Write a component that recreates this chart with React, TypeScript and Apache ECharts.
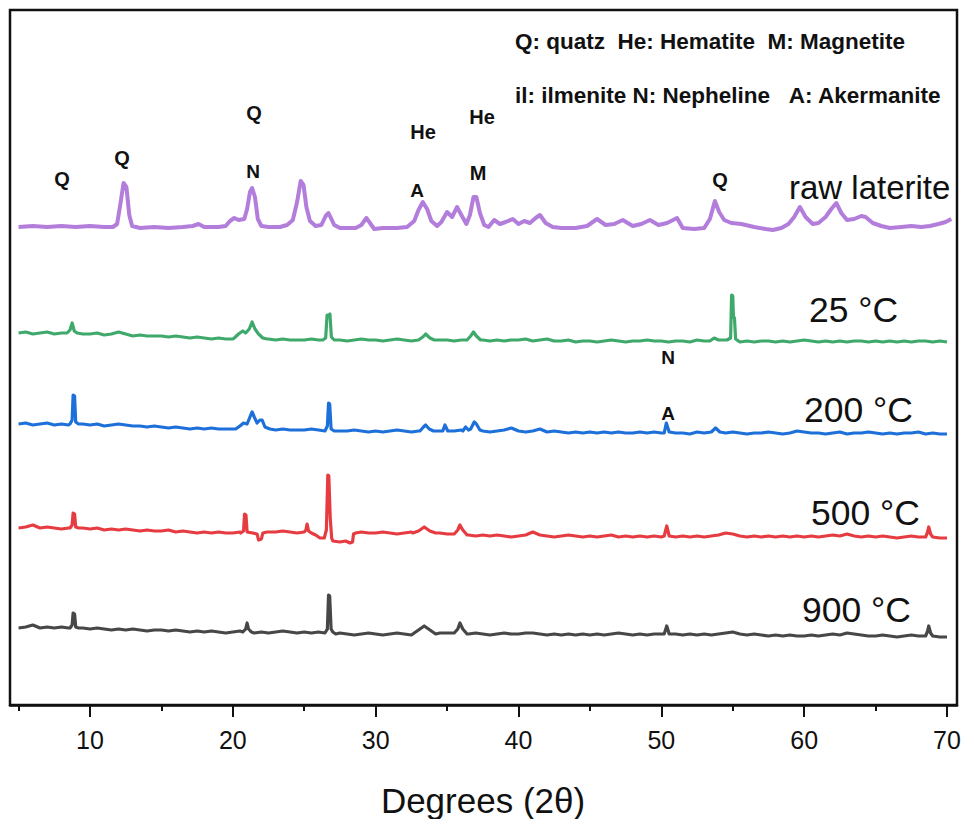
import { useEffect, useRef } from "react";
import * as echarts from "echarts";

// 2θ range and tick positions
const X_MIN = 4.4;
const X_MAX = 70.7;
const MAJOR_TICKS = [10, 20, 30, 40, 50, 60, 70];
const MINOR_TICKS = [5, 15, 25, 35, 45, 55, 65];

// background samples start at 5° and are spaced 0.5°
const BASE_START = 5;
const BASE_STEP = 0.5;

const SAMPLE_NAMES = ["raw laterite", "25 °C", "200 °C", "500 °C", "900 °C"];
const SAMPLE_COLORS = ["#b27ddb", "#3ea96b", "#1d6fd9", "#e63b40", "#474747"];
// vertical stacking offset of each pattern (a.u.)
const OFFSETS = [478, 363, 271, 167, 68];

// raw laterite pattern: [2θ, intensity]
const RAW_PATTERN: [number, number][] = [
  [5.0, 0], [6.0, 1], [7.0, 0], [8.0, 1], [9.0, 0], [10.0, 1], [11.0, 0], [11.6, 0], [11.9, 3],
  [12.15, 25], [12.35, 44], [12.55, 40], [12.75, 12], [12.95, 1], [13.5, -1], [14.5, 0], [15.5, -1],
  [16.5, 0], [17.2, 1], [17.6, 3], [18.0, 0], [19.0, 0], [19.5, 1], [19.8, 6], [20.1, 9], [20.4, 7],
  [20.8, 8], [21.0, 18], [21.2, 35], [21.35, 39], [21.55, 30], [21.75, 8], [22.0, 1], [22.5, 0],
  [23.3, 0], [23.8, 2], [24.2, 7], [24.5, 25], [24.75, 46], [24.95, 42], [25.15, 20], [25.4, 6],
  [25.8, 1], [26.2, 2], [26.5, 11], [26.7, 14], [26.9, 8], [27.1, 2], [27.5, -1], [28.0, -1],
  [28.6, -1], [29.0, 2], [29.35, 9], [29.6, 4], [29.9, -2], [30.5, -1], [31.5, -1], [32.2, 0],
  [32.7, 6], [33.0, 17], [33.3, 25], [33.6, 18], [33.9, 6], [34.3, 1], [34.6, 5], [35.0, 15],
  [35.35, 10], [35.7, 20], [36.0, 12], [36.35, 3], [36.6, 12], [36.85, 30], [37.05, 30], [37.3, 14],
  [37.6, 2], [37.9, 0], [38.3, 7], [38.7, 3], [39.1, 5], [39.6, 8], [40.0, 3], [40.4, 6], [40.8, 4],
  [41.2, 9], [41.5, 12], [41.9, 4], [42.4, 0], [43.0, -1], [44.0, -1], [44.8, 1], [45.5, 8],
  [46.1, 2], [46.7, 3], [47.3, 7], [48.0, 1], [48.6, 3], [49.2, 7], [49.8, 2], [50.4, 4], [51.1, 9],
  [51.5, -1], [52.3, -2], [53.0, -1], [53.4, 8], [53.75, 26], [54.05, 15], [54.4, 7], [54.9, 4],
  [55.6, 3], [56.5, 0], [57.3, -2], [57.8, -3], [58.4, -1], [58.9, 3], [59.3, 10], [59.7, 20],
  [60.1, 10], [60.6, 3], [61.0, 4], [61.5, 10], [61.9, 18], [62.25, 24], [62.6, 14], [63.0, 7],
  [63.5, 8], [64.0, 11], [64.3, 10], [64.8, 4], [65.4, 1], [66.0, -1], [66.8, 0], [67.5, 1],
  [68.2, 0], [68.8, 1], [69.4, 3], [69.9, 5], [70.3, 8],
];

// 25 °C: background every 0.5° from 5° to 70°, plus reflections
const BASE_25 = [
  9, 10, 8, 9, 10, 8, 9, 8, 9, 8,
  8, 9, 7, 8, 10, 8, 6, 7, 6, 6,
  6, 5, 6, 5, 4, 5, 4, 3, 4, 3,
  3, 4, 3, 3, 2, 3, 2, 3, 2, 2,
  2, 3, 2, 2, 3, 2, 1, 2, 3, 2,
  2, 1, 2, 3, 2, 1, 2, 2, 3, 2,
  2, 1, 2, 2, 1, 2, 1, 2, 1, 2,
  2, 3, 1, 2, 3, 1, 1, 2, 0, 1,
  1, 0, 1, 2, 1, 0, 1, 1, 2, 1,
  1, 0, 1, 1, 0, 2, 1, 1, 2, 2,
  1, 0, 1, 0, 1, 1, 0, 1, 0, 1,
  2, 1, 0, 1, 0, 1, 0, 1, 1, 0,
  1, 0, 1, 0, 1, 0, 1, 1, 0, 1,
  0,
];
const PEAKS_25: [number, number][][] = [
  [[8.4, 9], [8.6, 12], [8.75, 19], [8.9, 11], [9.1, 9]],
  [[20.1, 4], [20.4, 8], [20.7, 11], [20.9, 9], [21.15, 13], [21.35, 20], [21.55, 13], [21.8, 8], [22.1, 4], [22.4, 3]],
  [[26.3, 2], [26.5, 4], [26.6, 27], [26.7, 26], [26.8, 28], [26.9, 5], [27.1, 2]],
  [[33.0, 2], [33.3, 5], [33.5, 8], [33.8, 4], [34.1, 2]],
  [[36.4, 2], [36.65, 6], [36.85, 10], [37.05, 6], [37.35, 2]],
  [[53.4, 1], [53.7, 4], [54.0, 2]],
  [[54.6, 2], [54.85, 4], [54.92, 47], [55.0, 46], [55.05, 25], [55.12, 24], [55.2, 3], [55.4, 1]],
];

// 200 °C
const BASE_200 = [
  10, 11, 9, 10, 11, 9, 10, 9, 9, 10,
  9, 10, 8, 9, 10, 9, 8, 8, 7, 8,
  7, 6, 7, 6, 5, 6, 5, 6, 5, 5,
  5, 6, 5, 5, 4, 5, 4, 5, 4, 4,
  4, 5, 4, 3, 4, 3, 3, 4, 3, 2,
  3, 2, 3, 4, 3, 2, 3, 3, 4, 3,
  4, 3, 4, 3, 4, 3, 2, 3, 4, 6,
  3, 2, 3, 5, 2, 3, 2, 1, 2, 1,
  2, 1, 2, 1, 2, 1, 1, 2, 1, 2,
  1, 2, 1, 1, 0, 2, 1, 2, 1, 1,
  2, 1, 0, 1, 1, 2, 1, 0, 1, 3,
  2, 1, 1, 0, 1, 2, 0, 1, 1, 2,
  1, 0, 1, 0, 1, 1, 2, 0, 1, 0,
  0,
];
const PEAKS_200: [number, number][][] = [
  [[8.6, 10], [8.75, 14], [8.82, 39], [8.92, 38], [9.0, 12], [9.2, 10]],
  [[20.2, 5], [20.5, 8], [20.75, 11], [21.0, 10], [21.2, 17], [21.35, 22], [21.5, 17], [21.7, 11], [21.9, 14], [22.05, 14], [22.25, 7], [22.6, 5]],
  [[26.45, 3], [26.62, 8], [26.7, 31], [26.78, 30], [26.88, 5], [27.1, 3]],
  [[33.1, 3], [33.35, 7], [33.5, 9], [33.75, 5], [34.05, 3]],
  [[34.7, 3], [34.85, 9], [35.05, 3]],
  [[36.1, 3], [36.3, 7], [36.5, 4]],
  [[36.65, 5], [36.9, 12], [37.05, 10], [37.3, 4]],
  [[50.2, 1], [50.35, 11], [50.55, 2]],
  [[53.5, 2], [53.8, 6], [54.1, 2]],
];

// 500 °C
const BASE_500 = [
  10, 11, 13, 10, 11, 10, 9, 10, 9, 10,
  9, 10, 8, 9, 8, 9, 8, 7, 8, 7,
  7, 8, 6, 7, 6, 5, 6, 5, 6, 5,
  5, 6, 5, 6, 5, 6, 6, 7, 6, 5,
  6, 7, 4, 3, 2, 1, 0, 1, 6, 5,
  5, 6, 5, 4, 5, 6, 5, 5, 4, 5,
  4, 3, 4, 3, 2, 3, 2, 3, 2, 1,
  2, 3, 6, 3, 2, 1, 2, 3, 2, 1,
  2, 1, 2, 3, 1, 2, 1, 2, 1, 2,
  1, 2, 1, 2, 1, 2, 1, 2, 3, 5,
  4, 2, 1, 2, 1, 2, 1, 2, 1, 2,
  1, 2, 1, 2, 3, 2, 4, 2, 1, 2,
  1, 2, 1, 0, 1, 2, 1, 2, 1, 0,
  0,
];
const PEAKS_500: [number, number][][] = [
  [[8.6, 10], [8.75, 13], [8.82, 25], [8.92, 24], [9.0, 11], [9.2, 10]],
  [[20.55, 5], [20.75, 7], [20.82, 24], [20.92, 23], [21.0, 6], [21.4, 5], [21.7, 4], [21.8, -2], [22.0, -1], [22.1, 5], [22.4, 6]],
  [[25.0, 6], [25.12, 8], [25.2, 14], [25.3, 7], [25.5, 5], [25.8, 3], [26.1, 0], [26.4, 0], [26.55, 8], [26.65, 63], [26.72, 62], [26.82, 20], [26.92, 0], [27.0, -3], [27.5, -4], [27.9, -3], [28.2, -5], [28.38, -4], [28.45, 4], [28.6, 5]],
  [[32.6, 5], [33.0, 7], [33.4, 11], [33.8, 7], [34.2, 5]],
  [[35.5, 4], [35.75, 8], [35.9, 13], [36.1, 8], [36.4, 3]],
  [[50.2, 2], [50.38, 12], [50.55, 2]],
  [[68.5, 1], [68.62, 5], [68.72, 11], [68.85, 4], [69.0, 1]],
];

// 900 °C
const BASE_900 = [
  9, 10, 12, 9, 10, 9, 10, 9, 8, 9,
  8, 9, 8, 7, 8, 7, 8, 7, 6, 7,
  7, 6, 7, 6, 5, 6, 5, 6, 5, 4,
  5, 6, 5, 4, 5, 4, 5, 6, 5, 4,
  5, 4, 5, 4, 3, 4, 3, 2, 3, 4,
  3, 2, 3, 4, 3, 2, 3, 4, 3, 4,
  4, 3, 4, 3, 4, 3, 2, 3, 4, 3,
  3, 4, 4, 3, 2, 3, 2, 3, 2, 3,
  2, 3, 2, 3, 4, 3, 2, 3, 2, 3,
  3, 2, 3, 2, 3, 2, 3, 2, 3, 4,
  5, 3, 2, 3, 2, 1, 2, 1, 2, 1,
  1, 2, 1, 2, 3, 2, 4, 3, 2, 1,
  1, 2, 1, 0, 1, 2, 1, 2, 1, 0,
  0,
];
const PEAKS_900: [number, number][][] = [
  [[8.6, 9], [8.75, 12], [8.82, 24], [8.92, 23], [9.0, 10], [9.2, 9]],
  [[20.7, 5], [20.9, 8], [21.0, 14], [21.1, 8], [21.3, 5]],
  [[26.45, 4], [26.62, 8], [26.7, 42], [26.78, 41], [26.88, 8], [27.0, 5], [27.2, 3]],
  [[32.6, 3], [33.0, 7], [33.4, 11], [33.8, 7], [34.2, 3]],
  [[35.5, 4], [35.75, 8], [35.9, 14], [36.1, 8], [36.4, 3]],
  [[50.2, 3], [50.38, 11], [50.55, 3]],
  [[68.5, 1], [68.62, 5], [68.72, 11], [68.85, 4], [69.0, 1]],
];

// merge the sampled background with the reflection profiles
function buildTrace(base: number[], peaks: [number, number][][]): [number, number][] {
  const pts: [number, number][] = [];
  base.forEach((v, i) => {
    const x = BASE_START + i * BASE_STEP;
    const covered = peaks.some((p) => x >= p[0][0] && x <= p[p.length - 1][0]);
    if (!covered) pts.push([x, v]);
  });
  peaks.forEach((p) => p.forEach((pt) => pts.push(pt)));
  pts.sort((a, b) => a[0] - b[0]);
  return pts;
}

const PATTERNS: [number, number][][] = [
  RAW_PATTERN,
  buildTrace(BASE_25, PEAKS_25),
  buildTrace(BASE_200, PEAKS_200),
  buildTrace(BASE_500, PEAKS_500),
  buildTrace(BASE_900, PEAKS_900),
];

const FONT = "'Liberation Sans', Arial, Helvetica, sans-serif";
const INK = "#111111";
const NB = "\u00A0";

// phase markers: [text, x, y]
const PHASE_MARKS: [string, number, number][] = [
  ["Q", 62, 179], ["Q", 122, 158], ["Q", 254, 113], ["N", 253, 171],
  ["He", 423, 132], ["A", 417, 190], ["He", 482, 117], ["M", 478, 173],
  ["Q", 720, 180], ["N", 668, 357], ["A", 668, 413],
];

// key to phase abbreviations: [text, x, y]
const KEY_TEXTS: [string, number, number][] = [
  [`Q: quatz${NB}${NB}He: Hematite${NB}${NB}M: Magnetite`, 515, 41],
  [`il: ilmenite N: Nepheline${NB}${NB}${NB}A: Akermanite`, 515, 95],
];

// sample names next to each pattern: [x, y]
const NAME_POS: [number, number][] = [[789, 187], [809, 310], [804, 410], [811, 513], [802, 610]];

export default function App() {
  const ref = useRef<HTMLDivElement>(null);

  useEffect(() => {
    if (!ref.current) return;
    const chart = echarts.init(ref.current, undefined, { renderer: "svg" });

    const series = PATTERNS.map((pts, k) => ({
      type: "line" as const,
      name: SAMPLE_NAMES[k],
      data: pts.map(([x, v]) => [x, v + OFFSETS[k]]),
      showSymbol: false,
      symbol: "none",
      silent: true,
      lineStyle: { color: SAMPLE_COLORS[k], width: k === 0 ? 4 : 3.2, join: "round" as const },
      itemStyle: { color: SAMPLE_COLORS[k] },
      xAxisIndex: 0,
      yAxisIndex: 0,
    }));

    const graphics: any[] = [];
    PHASE_MARKS.forEach(([t, x, y]) =>
      graphics.push({
        type: "text",
        x,
        y,
        style: { text: t, font: `bold ${t === "N" || t === "A" ? 19 : 20}px ${FONT}`, fill: INK, textAlign: "center", textVerticalAlign: "middle" },
      })
    );
    KEY_TEXTS.forEach(([t, x, y]) =>
      graphics.push({
        type: "text",
        x,
        y,
        style: { text: t, font: `bold 22.5px ${FONT}`, fill: INK, textAlign: "left", textVerticalAlign: "middle" },
      })
    );
    NAME_POS.forEach(([x, y], k) =>
      graphics.push({
        type: "text",
        x,
        y,
        style: { text: SAMPLE_NAMES[k], font: `${k === 0 ? 33 : 35.5}px ${FONT}`, fill: INK, textAlign: "left", textVerticalAlign: "middle" },
      })
    );
    graphics.push({
      type: "text",
      x: 483,
      y: 800,
      style: { text: "Degrees (2θ)", font: `35px ${FONT}`, fill: INK, textAlign: "center", textVerticalAlign: "middle" },
    });

    chart.setOption({
      animation: false,
      backgroundColor: "#ffffff",
      grid: {
        left: 10,
        right: 7,
        top: 10,
        bottom: 114,
        show: true,
        borderColor: INK,
        borderWidth: 2.5,
        backgroundColor: "transparent",
      },
      xAxis: [
        {
          type: "value",
          min: X_MIN,
          max: X_MAX,
          position: "bottom",
          axisLine: { show: true, lineStyle: { color: INK, width: 2.5 } },
          axisTick: { show: true, customValues: MAJOR_TICKS, length: 12, lineStyle: { color: INK, width: 2 } },
          axisLabel: { show: true, customValues: MAJOR_TICKS, fontSize: 25, fontFamily: FONT, color: INK, margin: 22 },
          splitLine: { show: false },
        },
        {
          type: "value",
          min: X_MIN,
          max: X_MAX,
          position: "bottom",
          axisLine: { show: false },
          axisTick: { show: true, customValues: MINOR_TICKS, length: 6, lineStyle: { color: INK, width: 2 } },
          axisLabel: { show: false },
          splitLine: { show: false },
        },
      ],
      yAxis: {
        type: "value",
        min: 0,
        max: 695,
        show: false,
        splitLine: { show: false },
      },
      series,
      graphic: graphics,
    });

    return () => chart.dispose();
  }, []);

  return (
    <div
      ref={ref}
      style={{ position: "fixed", left: 0, top: 0, width: 964, height: 819, background: "#fff" }}
    />
  );
}
